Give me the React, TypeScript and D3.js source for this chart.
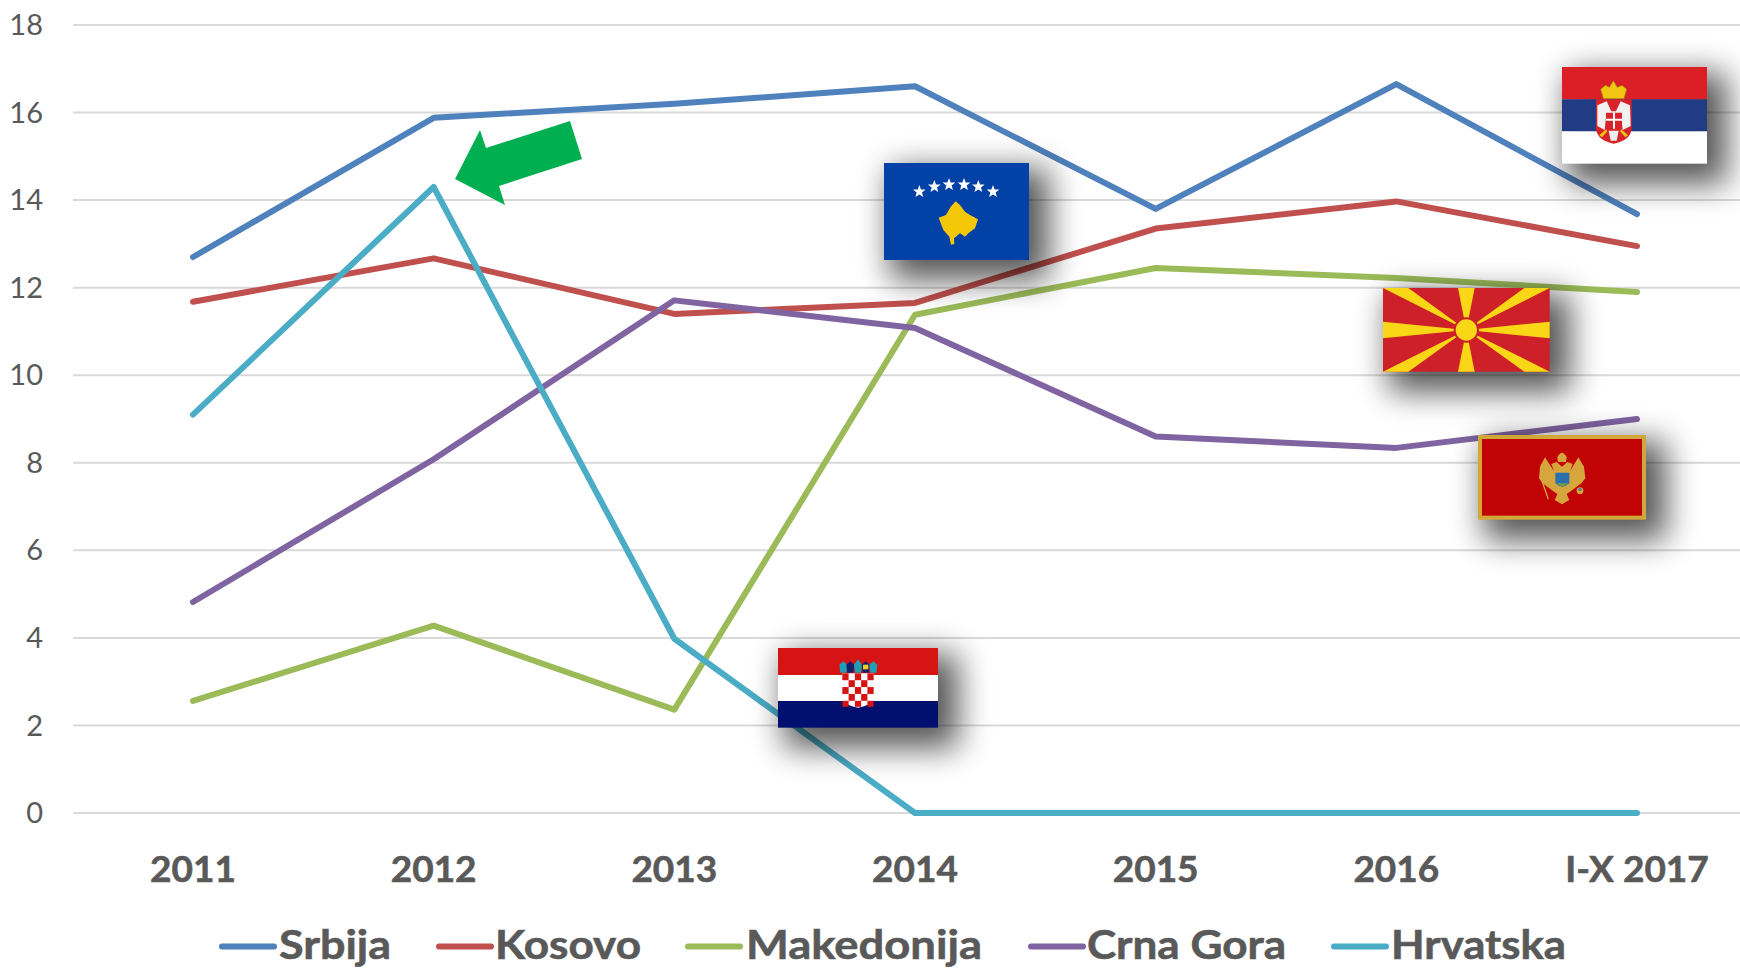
import * as d3 from "d3";

const WIDTH = 1740;
const HEIGHT = 968;

const categories = ["2011", "2012", "2013", "2014", "2015", "2016", "I-X 2017"];
const yTicks = [0, 2, 4, 6, 8, 10, 12, 14, 16, 18];

const srbija = [12.7, 15.88, 16.2, 16.6, 13.8, 16.65, 13.68];
const kosovo = [11.68, 12.67, 11.4, 11.65, 13.35, 13.97, 12.95];
const makedonija = [2.56, 4.28, 2.36, 11.38, 12.45, 12.22, 11.9];
const crnaGora = [4.82, 8.08, 11.71, 11.08, 8.6, 8.34, 9.0];
const hrvatska = [9.1, 14.3, 3.98, 0, 0, 0, 0];

const seriesNames = ["Srbija", "Kosovo", "Makedonija", "Crna Gora", "Hrvatska"];
const seriesValues = [srbija, kosovo, makedonija, crnaGora, hrvatska];
const seriesColors = ["#4f81bd", "#c0504d", "#9bbb59", "#8064a2", "#4bacc6"];

// legend layout: line start, line end, text start, text width
const legendLayout = [
  [222, 274, 279, 112],
  [439, 491, 495, 146],
  [688, 740, 746, 236],
  [1031, 1083, 1087, 199],
  [1334, 1386, 1391, 175],
];

const x = d3.scalePoint<string>().domain(categories).range([193, 1637]);
const y = d3.scaleLinear().domain([0, 18]).range([813, 25]);

const lineGen = d3
  .line<number>()
  .x((_, i) => x(categories[i]) as number)
  .y((d) => y(d));

const FONT = "Lato, 'Open Sans', sans-serif";
const TEXT = "#595959";

// flags are drawn in 3x coordinates of their crop, so the group scales them down
const Crop = ({ ox, oy, children }: { ox: number; oy: number; children: React.ReactNode }) => (
  <g transform={`translate(${ox},${oy}) scale(${1 / 3})`}>{children}</g>
);

// the shadow is a bit bigger than its flag, that is why it also shows top and left
const Shadow = ({ x0, y0, w, h }: { x0: number; y0: number; w: number; h: number }) => (
  <rect x={x0 + 6} y={y0 + 6} width={w + 14} height={h + 14} fill="#000" opacity={0.66} filter="url(#flagShadow)" />
);

const star = (cx: number, cy: number, r: number) => {
  const pts: string[] = [];
  for (let i = 0; i < 10; i++) {
    const a = (Math.PI / 5) * i - Math.PI / 2;
    const rr = i % 2 === 0 ? r : r * 0.42;
    pts.push(`${cx + rr * Math.cos(a)},${cy + rr * Math.sin(a)}`);
  }
  return pts.join(" ");
};

const SerbiaFlag = () => (
  <Crop ox={1440} oy={40}>
    <rect x={366} y={81} width={435} height={97} fill="#dc1f26" />
    <rect x={366} y={178} width={435} height={96} fill="#223c84" />
    <rect x={366} y={274} width={435} height={97} fill="#fff" />
    <path d="M468 178H575V268Q570 302 521 311Q473 302 468 268Z" fill="#d8232b" />
    <path d="M482 148L496 136L508 142L520 122L532 142L546 136L560 148L552 176H490Z" fill="#f3c614" stroke="#9c7a10" strokeWidth={2} />
    <path d="M472 196L500 184L514 214H528L542 184L570 196L572 258L548 270L544 232H498L494 270L472 258Z" fill="#f1f1f1" />
    <path d="M498 218H546V258Q522 276 498 258Z" fill="#d8232b" />
    <path d="M519 218H525V266H519ZM498 236H546V242H498Z" fill="#fff" />
    <path d="M506 272H536L530 302H512Z" fill="#efefef" />
    <path d="M478 286L498 268L502 274L486 292ZM564 286L544 268L540 274L556 292Z" fill="#f3c614" />
  </Crop>
);

const KosovoFlag = () => (
  <Crop ox={860} oy={140}>
    <rect x={72} y={69} width={435} height={291} fill="#0241a5" />
    {[
      [178, 155],
      [223, 140],
      [267, 134],
      [312, 134],
      [355, 140],
      [399, 155],
    ].map(([cx, cy]) => (
      <polygon key={cx} points={star(cx, cy, 20)} fill="#fff" />
    ))}
    <polygon
      points="287,184 300,195 315,215 330,225 354,238 345,265 325,280 315,290 300,280 282,295 283,312 273,314 268,290 250,270 236,233 258,225 272,200"
      fill="#f4c808"
    />
  </Crop>
);

const MacedoniaFlag = () => (
  <Crop ox={1360} oy={270}>
    <rect x={69} y={54} width={500} height={251} fill="#ce2028" />
    {[
      "69,54 145,54",
      "569,54 493,54",
      "69,305 145,305",
      "569,305 493,305",
      "294,54 344,54",
      "294,305 344,305",
      "69,155 69,205",
      "569,155 569,205",
    ].map((p) => (
      <polygon key={p} points={`${p} 319,180`} fill="#f9d616" />
    ))}
    <circle cx={319} cy={180} r={38} fill="#ce2028" />
    <circle cx={319} cy={180} r={32} fill="#f9d616" />
  </Crop>
);

const MontenegroFlag = () => (
  <Crop ox={1360} oy={270}>
    <rect x={354} y={495} width={504} height={254} fill="#d2a73a" />
    <rect x={366} y={507} width={480} height={230} fill="#c10306" />
    <path
      d="M574 582L590 576L606 590L622 576L638 582L630 604L655 562L672 590L676 625L664 640L650 650L632 664L620 672L628 690L606 703L584 690L592 672L580 664L562 650L548 640L537 625L540 590L555 562L582 604Z"
      fill="#d6a53c"
    />
    <path d="M592 562Q606 535 620 562L618 576H594Z" fill="#d6a53c" />
    <path d="M545 630L565 688" stroke="#d6a53c" strokeWidth={4} />
    <circle cx={660} cy={662} r={10} fill="#d6a53c" />
    <circle cx={660} cy={658} r={5} fill="#4a7fa5" />
    <path d="M586 608H628V640Q607 660 586 640Z" fill="#2b6fae" />
    <path d="M590 640H624Q607 658 590 640Z" fill="#6f9a47" />
  </Crop>
);

const CroatiaFlag = () => (
  <Crop ox={760} oy={630}>
    <rect x={54} y={54} width={480} height={81} fill="#d71414" />
    <rect x={54} y={135} width={480} height={78} fill="#fff" />
    <rect x={54} y={213} width={480} height={80} fill="#010f6e" />
    <path d="M247 130H341V205Q335 228 294 233Q253 228 247 205Z" fill="#fff" />
    {d3.range(5).flatMap((row) =>
      d3.range(5).map((col) =>
        (row + col) % 2 === 0 ? (
          <rect key={`${row}-${col}`} x={247 + col * 18.8} y={130 + row * 20.6} width={18.8} height={row === 4 ? 18 : 20.6} fill="#d71414" />
        ) : null
      )
    )}
    {[
      [250, "#1e9fb5"],
      [271, "#14206e"],
      [294, "#1e9fb5"],
      [317, "#14206e"],
      [340, "#1e9fb5"],
    ].map(([cx, c]) => (
      <path
        key={cx as number}
        d={`M${(cx as number) - 12} 104L${cx} ${cx === 294 ? 88 : 94}L${(cx as number) + 12} 104L${(cx as number) + 9} 128H${(cx as number) - 9}Z`}
        fill={c as string}
      />
    ))}
    <rect x={309} y={104} width={16} height={14} fill="#e8d020" />
  </Crop>
);

export default function App() {
  return (
    <svg
      width={WIDTH}
      height={HEIGHT}
      viewBox={`0 0 ${WIDTH} ${HEIGHT}`}
      style={{ position: "absolute", left: 0, top: 0, background: "#fff" }}
      fontFamily={FONT}
    >
      <defs>
        <filter id="flagShadow" x="-60%" y="-90%" width="220%" height="280%">
          <feGaussianBlur stdDeviation={16} />
        </filter>
      </defs>

      {yTicks.map((t) => (
        <g key={t}>
          <line x1={73} x2={WIDTH} y1={y(t)} y2={y(t)} stroke="#d9d9d9" strokeWidth={2} />
          <text x={43} y={y(t)} dy="0.35em" textAnchor="end" fontSize={29} fill={TEXT}>
            {t}
          </text>
        </g>
      ))}

      {categories.map((c) => (
        <text key={c} x={x(c)} y={882} textAnchor="middle" fontSize={37} fontWeight={700} fill={TEXT} stroke={TEXT} strokeWidth={0.6}>
          {c}
        </text>
      ))}

      {seriesValues.map((vals, i) => (
        <path
          key={seriesNames[i]}
          d={lineGen(vals) ?? ""}
          fill="none"
          stroke={seriesColors[i]}
          strokeWidth={6}
          strokeLinecap="round"
          strokeLinejoin="round"
        />
      ))}

      <Shadow x0={1562} y0={67} w={145} h={97} />
      <SerbiaFlag />
      <Shadow x0={884} y0={163} w={145} h={97} />
      <KosovoFlag />
      <Shadow x0={1383} y0={288} w={167} h={84} />
      <MacedoniaFlag />
      <Shadow x0={1478} y0={435} w={168} h={85} />
      <MontenegroFlag />
      <Shadow x0={778} y0={648} w={160} h={80} />
      <CroatiaFlag />

      <polygon points="570,121 582,159 499,186 505,205 455,179 480,130 486,148" fill="#00b050" />

      {seriesNames.map((name, i) => {
        const [x1, x2, tx, tw] = legendLayout[i];
        return (
          <g key={name}>
            <line x1={x1} x2={x2} y1={946.5} y2={946.5} stroke={seriesColors[i]} strokeWidth={6} strokeLinecap="round" />
            <text
              x={tx}
              y={959}
              fontSize={41}
              fontWeight={700}
              fill={TEXT}
              stroke={TEXT}
              strokeWidth={0.6}
              textLength={tw}
              lengthAdjust="spacingAndGlyphs"
            >
              {name}
            </text>
          </g>
        );
      })}
    </svg>
  );
}
